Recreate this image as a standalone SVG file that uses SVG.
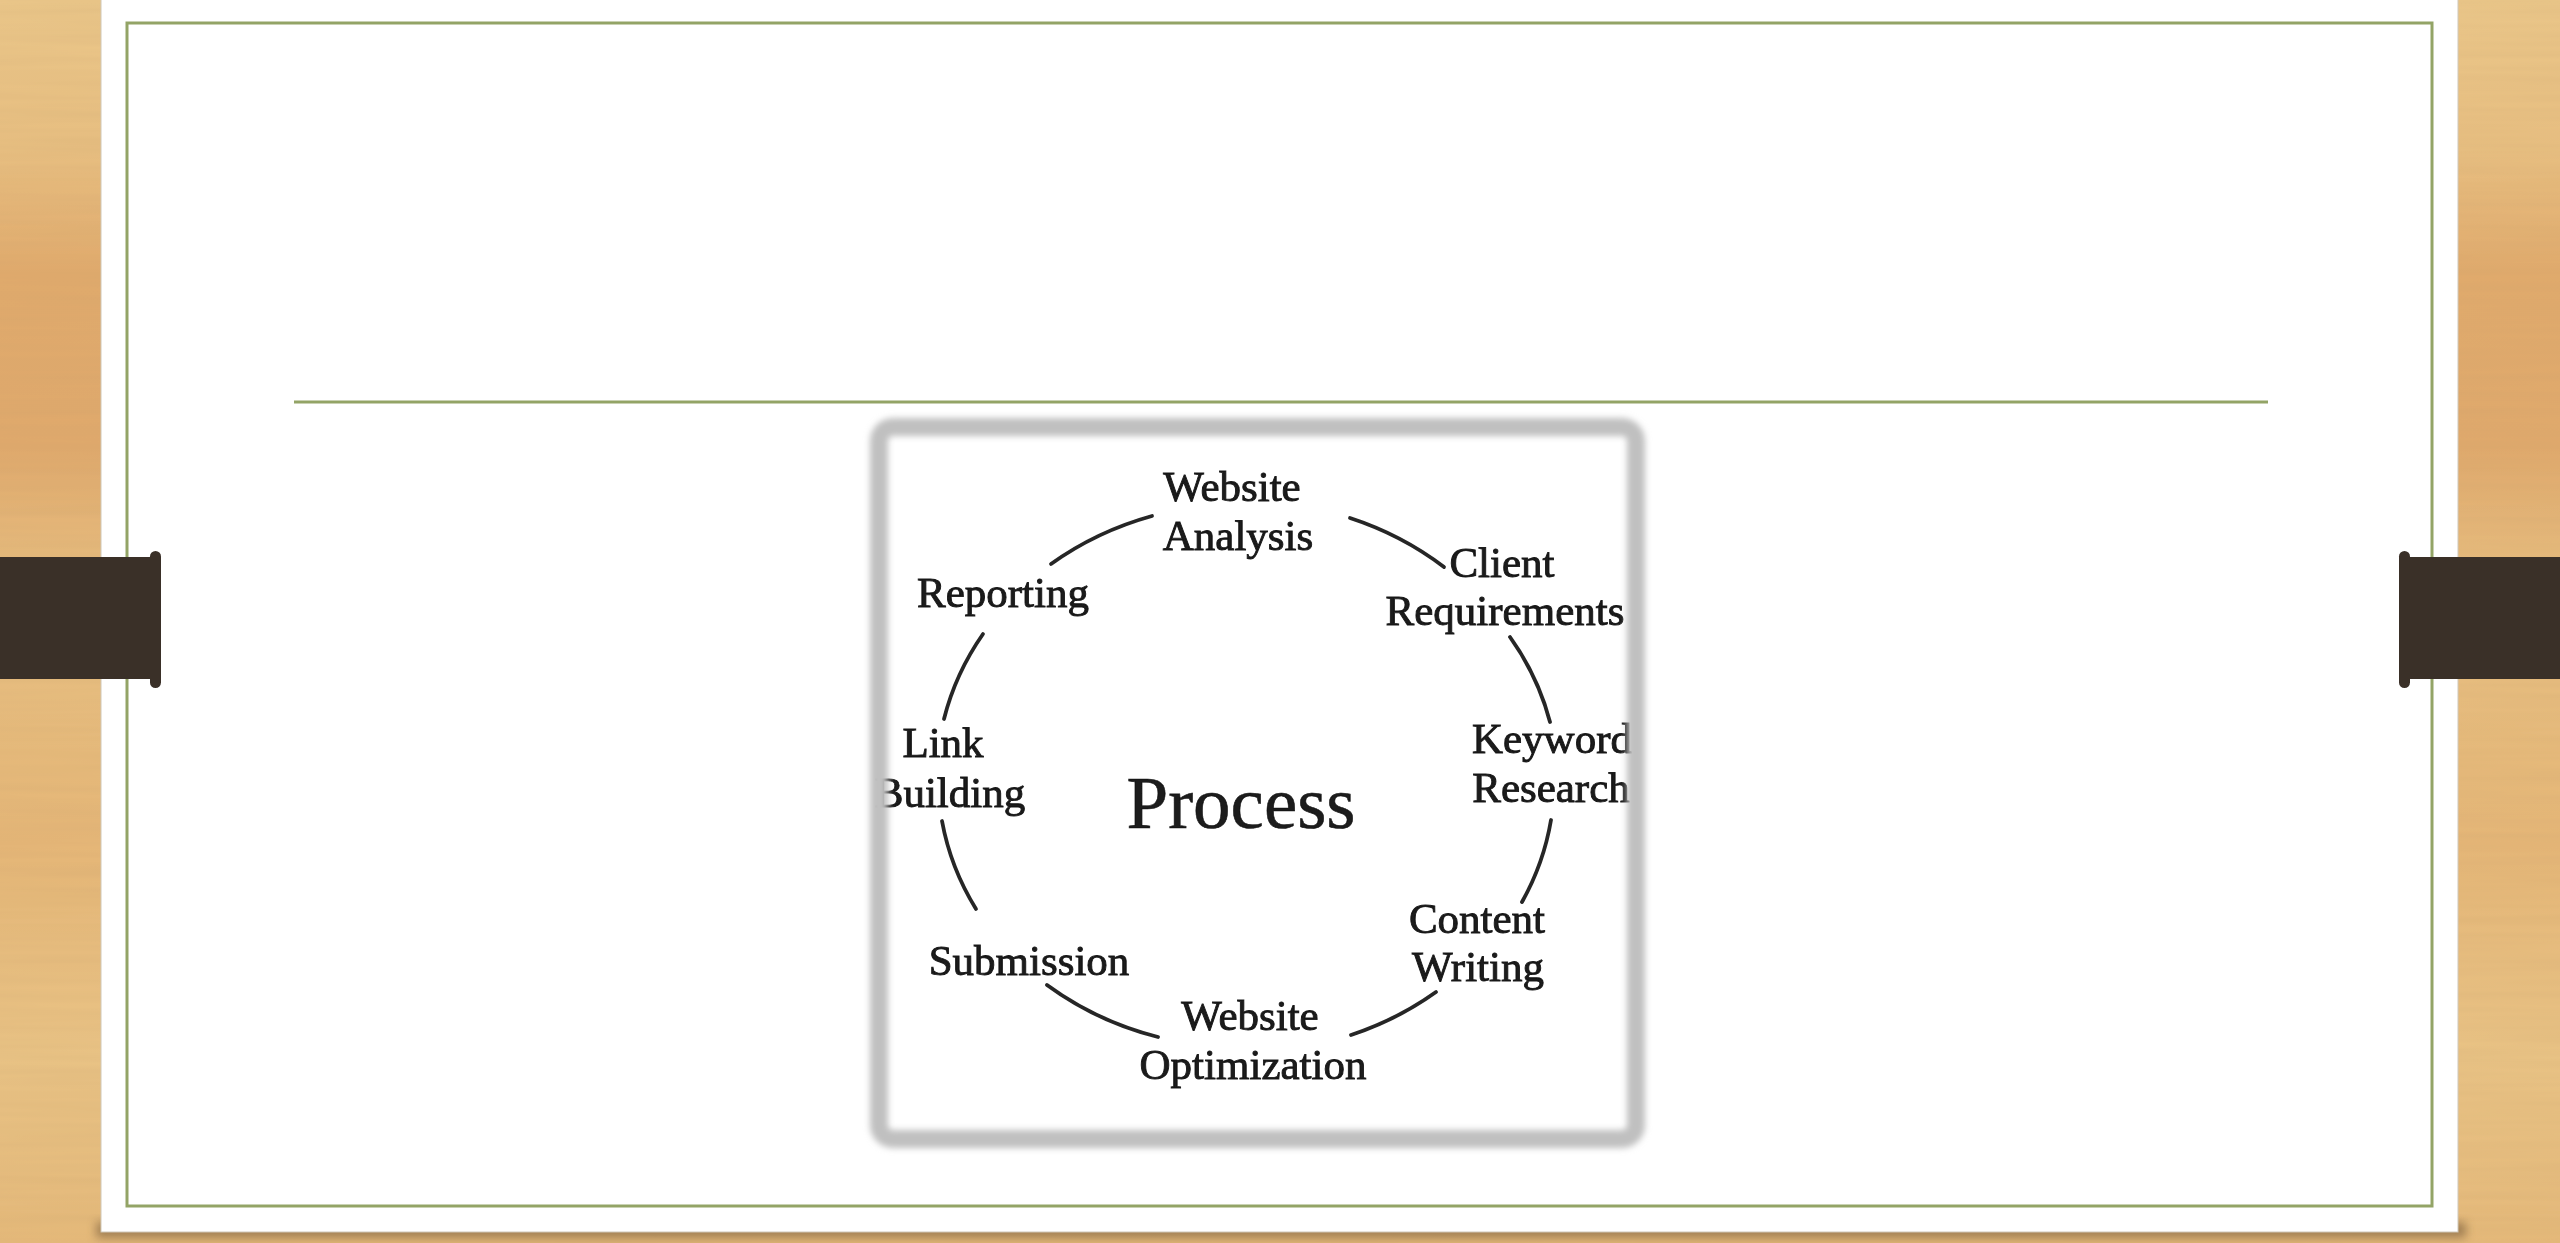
<svg xmlns="http://www.w3.org/2000/svg" width="2560" height="1243" viewBox="0 0 2560 1243">
  <defs>
    <linearGradient id="wood" x1="0" y1="0" x2="0" y2="1">
      <stop offset="0" stop-color="#ebc78a"/>
      <stop offset="0.12" stop-color="#e8bf81"/>
      <stop offset="0.22" stop-color="#e1aa6c"/>
      <stop offset="0.36" stop-color="#e0a96c"/>
      <stop offset="0.48" stop-color="#e8c082"/>
      <stop offset="0.68" stop-color="#e5b677"/>
      <stop offset="0.85" stop-color="#e9c385"/>
      <stop offset="1" stop-color="#e5b97a"/>
    </linearGradient>
    <filter id="grain" x="0" y="0" width="1" height="1">
      <feTurbulence type="fractalNoise" baseFrequency="0.004 0.12" numOctaves="2" seed="3" result="n"/>
      <feColorMatrix in="n" type="matrix" values="0 0 0 0 0.55  0 0 0 0 0.35  0 0 0 0 0.15  0 0 0 0.25 -0.04" result="g"/>
      <feComposite in="g" in2="SourceGraphic" operator="atop"/>
    </filter>
    <filter id="soft" x="-5%" y="-5%" width="110%" height="110%">
      <feGaussianBlur stdDeviation="3"/>
    </filter>
    <filter id="shadow" x="-5%" y="-50%" width="110%" height="200%">
      <feGaussianBlur stdDeviation="5"/>
    </filter>
    <filter id="ink" x="-5%" y="-20%" width="110%" height="140%">
      <feGaussianBlur stdDeviation="0.7"/>
    </filter>
  </defs>
  <style>
    .lbl { font-family: "Liberation Serif", "Times New Roman", serif; font-size: 43px; fill: #1a1a1a; stroke: #1a1a1a; stroke-width: 0.9px; text-anchor: middle; }
    .big { font-size: 75px; stroke-width: 0.6px; }
    .arc { fill: none; stroke: #262626; stroke-width: 3.8; stroke-linecap: round; }
    .green { stroke: #93a466; stroke-width: 3; fill: none; }
    .band { fill: #3a3028; }
  </style>

  <!-- wood background -->
  <rect x="0" y="0" width="2560" height="1243" fill="url(#wood)" filter="url(#grain)"/>

  <!-- paper shadow and paper -->
  <rect x="96" y="1222" width="2370" height="16" fill="#6d5236" opacity="0.55" filter="url(#shadow)"/>
  <rect x="101" y="-10" width="2357" height="1242" fill="#ffffff" stroke="#cfc7b8" stroke-width="1"/>

  <!-- green border and title rule -->
  <rect x="127" y="23" width="2305" height="1183" class="green"/>
  <line x1="294" y1="402" x2="2268" y2="402" class="green"/>

  <!-- side bands -->
  <g id="band-left">
    <rect x="0" y="557" width="158" height="122" class="band"/>
    <rect x="150" y="551" width="11" height="137" rx="5.5" class="band"/>
  </g>
  <g id="band-right">
    <rect x="2402" y="557" width="158" height="122" class="band"/>
    <rect x="2399" y="551" width="11" height="137" rx="5.5" class="band"/>
  </g>

  <!-- inner picture -->
  <rect x="878" y="426" width="759" height="714" fill="#ffffff"/>

  <g id="connectors" filter="url(#ink)">
    <path class="arc" d="M 1051 564 A 307 274 0 0 1 1152 516"/>
    <path class="arc" d="M 1350 518 A 307 274 0 0 1 1444 567"/>
    <path class="arc" d="M 1510 637 A 307 274 0 0 1 1550 722"/>
    <path class="arc" d="M 1551 820 A 307 274 0 0 1 1522 902"/>
    <path class="arc" d="M 1436 992 A 307 274 0 0 1 1351 1035"/>
    <path class="arc" d="M 1158 1037 A 307 274 0 0 1 1047 985"/>
    <path class="arc" d="M 976 909 A 307 274 0 0 1 942 821"/>
    <path class="arc" d="M 944 719 A 307 274 0 0 1 983 634"/>
  </g>

  <g filter="url(#ink)">
    <g id="node-website-analysis">
      <text class="lbl" x="1232" y="501">Website</text>
      <text class="lbl" x="1238" y="550">Analysis</text>
    </g>
    <g id="node-client-requirements">
      <text class="lbl" x="1502" y="577">Client</text>
      <text class="lbl" x="1505" y="625">Requirements</text>
    </g>
    <g id="node-keyword-research">
      <text class="lbl" x="1552" y="753">Keyword</text>
      <text class="lbl" x="1551" y="802">Research</text>
    </g>
    <g id="node-content-writing">
      <text class="lbl" x="1477" y="933">Content</text>
      <text class="lbl" x="1478" y="981">Writing</text>
    </g>
    <g id="node-website-optimization">
      <text class="lbl" x="1250" y="1030">Website</text>
      <text class="lbl" x="1253" y="1079">Optimization</text>
    </g>
    <g id="node-submission">
      <text class="lbl" x="1029" y="975">Submission</text>
    </g>
    <g id="node-link-building">
      <text class="lbl" x="943" y="757">Link</text>
      <text class="lbl" x="950" y="807">Building</text>
    </g>
    <g id="node-reporting">
      <text class="lbl" x="1003" y="607">Reporting</text>
    </g>
    <g id="node-process">
      <text class="lbl big" x="1241" y="828">Process</text>
    </g>
  </g>

  <!-- picture frame border (drawn over text) -->
  <g id="picture-frame">
    <rect x="879" y="427" width="757" height="712" rx="14" fill="none" stroke="#c0c0c0" stroke-width="18" filter="url(#soft)"/>
  </g>
</svg>
